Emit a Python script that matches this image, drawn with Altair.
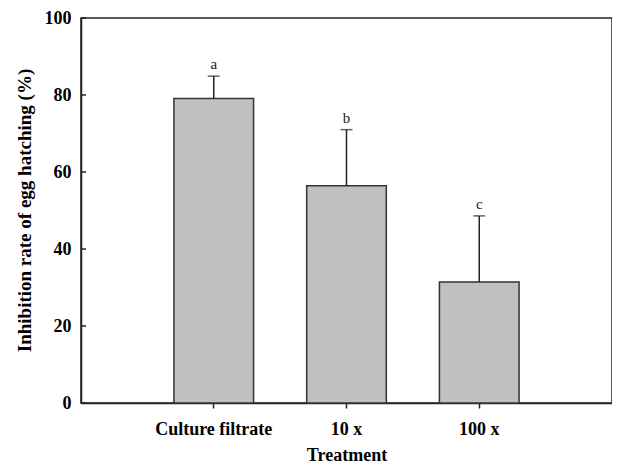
import altair as alt
import pandas as pd

treatments = ["Culture filtrate", "10 x", "100 x"]
means = [79.1, 56.4, 31.4]
errors = [5.8, 14.6, 17.2]
letters = ["a", "b", "c"]
y_ticks = [0, 20, 40, 60, 80, 100]

df = pd.DataFrame({"treatment": treatments, "mean": means, "err": errors, "letter": letters})
df["upper"] = df["mean"] + df["err"]
ticks_df = pd.DataFrame({"v": y_ticks})

FONT = "Liberation Serif"
YTITLE = "Inhibition rate of egg hatching (%)"

xscale = alt.Scale(paddingInner=0.4, paddingOuter=0.7)
yscale = alt.Scale(domain=[0, 100], nice=False)

xenc = alt.X(
    "treatment:N", sort=treatments, scale=xscale,
    axis=alt.Axis(title="Treatment", labelAngle=0, tickSize=5, labelPadding=12,
                  titleBaseline="alphabetic", titleY=57),
)
xplain = alt.X("treatment:N", sort=treatments, scale=xscale)

yaxis = alt.Axis(values=y_ticks, ticks=False, grid=False, labelPadding=10,
                 titleX=-57, titleY=192, titleBaseline="middle", titleFontSize=19)

base = alt.Chart(df)

bars = base.mark_bar(color="#c0c0c0", stroke="#333333", strokeWidth=1.5).encode(
    x=xenc,
    y=alt.Y("mean:Q", scale=yscale, axis=yaxis, title=YTITLE),
)

rule = base.mark_rule(color="#222222", strokeWidth=1.5).encode(
    x=xplain,
    y=alt.Y("mean:Q", scale=yscale, title=YTITLE),
    y2="upper:Q",
)

cap = base.mark_tick(color="#222222", size=12, thickness=1.5, orient="horizontal").encode(
    x=xplain,
    y=alt.Y("upper:Q", scale=yscale, title=YTITLE),
)

txt = base.mark_text(dy=-7, baseline="alphabetic", font=FONT, fontSize=15, color="#222222").encode(
    x=xplain,
    y=alt.Y("upper:Q", scale=yscale, title=YTITLE),
    text="letter:N",
)

ytk = alt.Chart(ticks_df).mark_rule(color="#222222", strokeWidth=1.5).encode(
    y=alt.Y("v:Q", scale=yscale, title=YTITLE),
    x=alt.value(0),
    x2=alt.value(5),
)

chart = (
    alt.layer(bars, rule, cap, txt, ytk)
    .properties(width=531, height=385,
                padding={"left": 73, "top": 10, "right": 0, "bottom": 62},
                autosize="none")
    .configure_view(stroke="#222222", strokeWidth=1.5)
    .configure_axis(
        domainColor="#222222", domainWidth=1.5, tickColor="#222222", tickWidth=1.5,
        labelFont=FONT, titleFont=FONT, labelFontWeight="bold", titleFontWeight="bold",
        labelFontSize=18, titleFontSize=18, labelColor="#000000", titleColor="#000000",
    )
)

chart.save("out.html", embed_options={"renderer": "svg", "actions": False})
